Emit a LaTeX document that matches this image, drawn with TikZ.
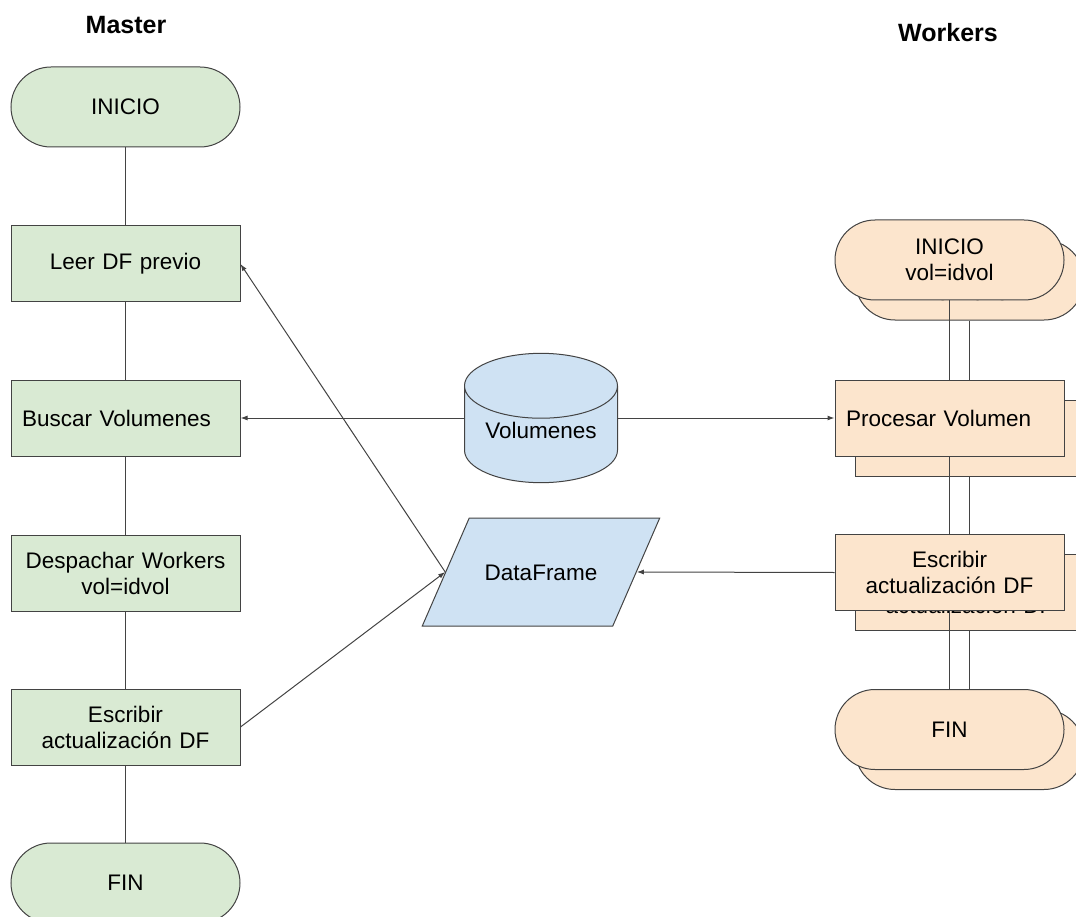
\documentclass[tikz,border=0pt]{standalone}
\usepackage{fontspec}
\setmainfont{Liberation Sans}
\usetikzlibrary{shapes.geometric,arrows.meta}
\definecolor{mgreen}{HTML}{D9EAD3}
\definecolor{wpeach}{HTML}{FCE5CD}
\definecolor{dblue}{HTML}{CFE2F3}
\definecolor{edgegray}{HTML}{434343}
\tikzset{
  flowbox/.style={draw=edgegray, line width=1pt, text width=207pt, inner xsep=11pt, inner ysep=0pt,
    align=center, font=\fontsize{22.5}{26}\selectfont},
  procbox/.style={flowbox, rectangle, minimum height=76pt},
  termbox/.style={flowbox, rectangle, rounded corners=40pt, minimum height=80pt},
  title/.style={font=\bfseries\fontsize{25}{30}\selectfont},
  link/.style={draw=edgegray, line width=1pt},
  flow/.style={link, -{Latex[length=7pt,width=5pt]}},
}
\begin{document}
\begin{tikzpicture}[x=1pt, y=-1pt]
        \useasboundingbox (0,0) rectangle (1076,917);
        % Master column
        \node[title] (mtitle) at (126,25) {Master};
        \node[termbox, fill=mgreen] (minicio) at (125.5,107) {INICIO};
        \node[procbox, fill=mgreen] (mleer) at (125.5,264) {Leer DF previo};
        \node[procbox, fill=mgreen, align=left] (mbuscar) at (125.5,418) {Buscar Volumenes};
        \node[procbox, fill=mgreen] (mdesp) at (125.5,573) {Despachar Workers\\vol=idvol};
        \node[procbox, fill=mgreen] (mescr) at (125.5,727) {Escribir\\actualización DF};
        \node[termbox, fill=mgreen] (mfin) at (125.5,883) {FIN};
        \foreach \a/\b in {minicio/mleer, mleer/mbuscar, mbuscar/mdesp, mdesp/mescr, mescr/mfin}
            \draw[link] (\a) -- (\b);

        % Workers, back copy first, then the front one
        \node[title] (wtitle) at (948,33) {Workers};
        \foreach \d/\s in {20/b, 0/f}
        {
            \node[termbox, fill=wpeach] (winicio\s) at (949.5+\d,260+\d) {INICIO\\vol=idvol};
            \node[procbox, fill=wpeach, align=left] (wproc\s) at (949.5+\d,418+\d) {Procesar Volumen};
            \node[procbox, fill=wpeach] (wescr\s) at (949.5+\d,572.5+\d) {Escribir\\actualización DF};
            \node[termbox, fill=wpeach] (wfin\s) at (949.5+\d,729.5+\d) {FIN};
            \foreach \a/\b in {winicio/wproc, wproc/wescr, wescr/wfin}
                \draw[link] (\a\s) -- (\b\s);
        }

        % Data in the middle
        \node[cylinder, shape border rotate=90, aspect=0.55, draw=edgegray, fill=dblue, line width=1pt,
            minimum width=153pt, minimum height=129pt, anchor=shape center, text depth=18pt,
            font=\fontsize{22.5}{26}\selectfont] (vol) at (541,418) {Volumenes};
        \node[trapezium, trapezium left angle=66.5, trapezium right angle=113.5,
            draw=edgegray, fill=dblue, line width=1pt, text height=16pt, text depth=0pt,
            inner xsep=15.5pt, inner ysep=46pt,
            font=\fontsize{22.5}{26}\selectfont] (df) at (541,572) {DataFrame};

        \draw[flow] (vol.west |- mbuscar) -- (mbuscar.east);
        \draw[flow] (vol.east |- wprocf) -- (wprocf.west);
        \draw[flow] (wescrf.west) -- (df.east);
        \draw[flow] (df.west) -- (mleer.east);
        \draw[flow] (mescr.east) -- (df.west);
    \end{tikzpicture}
\end{document}
